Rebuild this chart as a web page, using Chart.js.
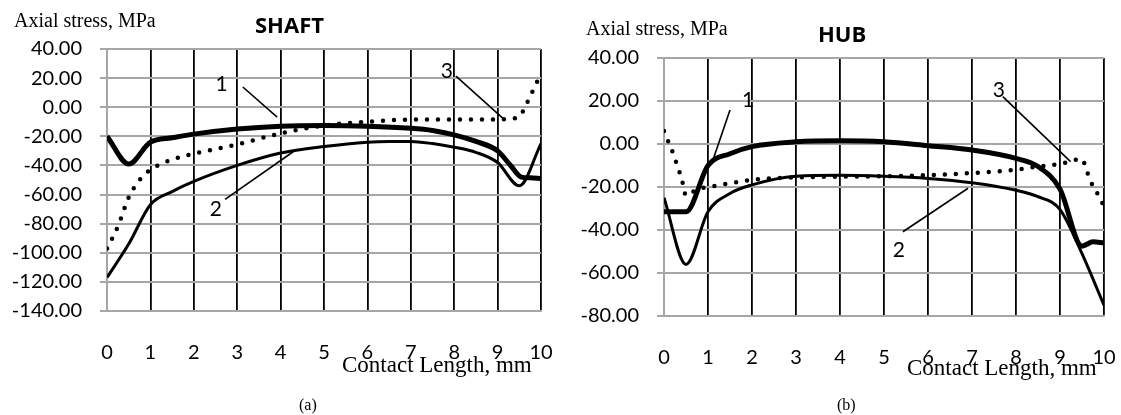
<!DOCTYPE html>
<html>
<head>
<meta charset="utf-8">
<script src="https://cdn.jsdelivr.net/npm/chart.js@4.4.1/dist/chart.umd.min.js"></script>
<style>
    body { margin: 0; background: #fff; }
    #wrap { position: relative; width: 1121px; height: 415px; overflow: hidden; }
    canvas { position: absolute; top: 0; }
    .txt { position: absolute; white-space: nowrap; line-height: 1; color: #000; }
    .serif { font-family: "Liberation Serif", "Times New Roman", serif; }
    .bold { font-family: "Open Sans", sans-serif; font-weight: bold; }
</style>
</head>
<body>
<div id="wrap">
    <canvas id="shaftChart" style="left:0px"></canvas>
    <canvas id="hubChart" style="left:560px"></canvas>

    <div class="txt serif" style="left:14px; top:10px; font-size:20px;">Axial stress, MPa</div>
    <div class="txt bold" style="left:255px; top:13px; font-size:22px;">SHAFT</div>
    <div class="txt serif" style="left:342px; top:353px; font-size:23px;">Contact Length, mm</div>
    <div class="txt serif" style="left:299px; top:397px; font-size:16px;">(a)</div>

    <div class="txt serif" style="left:586px; top:18px; font-size:20px;">Axial stress, MPa</div>
    <div class="txt bold" style="left:818px; top:22px; font-size:22px;">HUB</div>
    <div class="txt serif" style="left:907px; top:356px; font-size:23px;">Contact Length, mm</div>
    <div class="txt serif" style="left:837px; top:397px; font-size:16px;">(b)</div>
</div>

<script>
// --- SHAFT data (x in mm, axial stress in MPa) ---
const shaftX1 = [0, 0.5, 1, 1.5, 2, 3, 4, 5, 6, 7, 7.5, 8, 8.5, 9, 9.3, 9.55, 9.75, 10];
const shaftY1 = [-20, -39, -24, -21, -18.5, -15, -13, -12.5, -13, -14.5, -16, -19, -23.5, -30, -40, -48, -48.5, -49];

const shaftX2 = [0, 0.5, 1, 1.5, 2, 3, 4, 5, 6, 6.5, 7, 7.5, 8, 8.5, 9, 9.5, 10];
const shaftY2 = [-117, -94, -67, -58, -51, -40, -31.5, -27, -24, -23.5, -23.5, -25, -27.5, -31, -38, -54, -25];

const shaftX3 = [0, 0.25, 0.5, 0.75, 1, 1.5, 2, 3, 4, 5, 6, 7, 8, 9, 9.25, 9.5, 9.63, 9.75, 9.87, 10];
const shaftY3 = [-97, -82, -62, -50, -43, -36, -32, -25.5, -18, -12.5, -10, -8.5, -8.5, -8.5, -8, -6.5, 0, 7.5, 15, 23];

const shaftTicksY = { min: -140, max: 40, step: 20 };

// curve labels: text, label position, leader line (x1, y1, x2, y2) in data units
const shaftNoteText = ['1', '2', '3'];
const shaftNoteAt = [[2.64, 15.9], [2.51, -70], [7.83, 24.4]];
const shaftLeaders = [[3.13, 13.9, 3.92, -6.8], [2.72, -63.3, 4.29, -30.6], [8.04, 21.4, 9.15, -8.3]];

// --- HUB data ---
const hubX1 = [0, 0.5, 1, 1.5, 2, 3, 4, 5, 6, 7, 8, 8.5, 9, 9.5, 9.75, 10];
const hubY1 = [-31.5, -31.5, -10, -4.5, -1.2, 1, 1.5, 1, -0.8, -2.8, -6.7, -10.5, -21, -47.5, -45.5, -46];

const hubX2 = [0, 0.5, 1, 1.5, 2, 3, 4, 5, 6, 7, 8, 8.5, 9, 9.5, 10];
const hubY2 = [-25, -56, -31.5, -23, -19, -15, -14.5, -15, -16, -18, -21.5, -24.5, -30.5, -51, -75];

const hubX3 = [0, 0.1, 0.2, 0.3, 0.4, 0.5, 0.75, 1, 1.5, 2, 3, 4, 5, 6, 7, 8, 8.5, 9, 9.5, 9.6, 9.7, 9.85, 10];
const hubY3 = [6, 1, -4, -10, -16, -24, -21, -20, -18.3, -16.7, -15.5, -15.2, -15, -14.5, -13.5, -12, -10.5, -9.3, -7, -12, -17.5, -23, -29];

const hubTicksY = { min: -80, max: 40, step: 20 };

const hubNoteText = ['1', '2', '3'];
const hubNoteAt = [[1.91, 20.5], [5.34, -49.3], [7.61, 25.1]];
const hubLeaders = [[1.5, 15.8, 1.1, -8.2], [5.43, -40.8, 6.91, -20.6], [7.7, 22, 9.24, -8.2]];

const xTicks = { min: 0, max: 10, step: 1 };

const GRID_GRAY = '#a6a6a6';
const TICK_FONT = { family: 'Lato, "Open Sans", sans-serif', size: 20 };

function toPoints(xs, ys) {
    return xs.map((x, i) => ({ x: x, y: ys[i] }));
}

// draws the "1", "2", "3" markers with their leader lines
const notesPlugin = {
    id: 'curveNotes',
    afterDatasetsDraw(chart, args, opts) {
        const { ctx, scales: { x, y } } = chart;
        ctx.save();
        ctx.strokeStyle = '#000';
        ctx.lineWidth = 1.6;
        opts.leaders.forEach(l => {
            ctx.beginPath();
            ctx.moveTo(x.getPixelForValue(l[0]), y.getPixelForValue(l[1]));
            ctx.lineTo(x.getPixelForValue(l[2]), y.getPixelForValue(l[3]));
            ctx.stroke();
        });
        ctx.fillStyle = '#000';
        ctx.font = '21px Lato, "Open Sans", sans-serif';
        ctx.textAlign = 'center';
        ctx.textBaseline = 'middle';
        opts.text.forEach((t, i) => {
            ctx.fillText(t, x.getPixelForValue(opts.at[i][0]), y.getPixelForValue(opts.at[i][1]));
        });
        ctx.restore();
    }
};

function makeChart(id, w, area, series, yRange, notes) {
    const canvas = document.getElementById(id);
    canvas.width = w;
    canvas.height = 415;
    canvas.style.width = w + 'px';
    canvas.style.height = '415px';

    const datasets = [
        { // 1 - thick
            data: toPoints(series[0][0], series[0][1]),
            borderColor: '#000',
            borderWidth: 5,
            borderJoinStyle: 'round',
            cubicInterpolationMode: 'monotone',
            pointRadius: 0
        },
        { // 2 - thin
            data: toPoints(series[1][0], series[1][1]),
            borderColor: '#000',
            borderWidth: 3,
            borderJoinStyle: 'round',
            cubicInterpolationMode: 'monotone',
            pointRadius: 0
        },
        { // 3 - dotted
            data: toPoints(series[2][0], series[2][1]),
            borderColor: '#000',
            borderWidth: 4.5,
            borderDash: [0, 11],
            borderCapStyle: 'round',
            cubicInterpolationMode: 'monotone',
            pointRadius: 0
        }
    ];

    return new Chart(canvas.getContext('2d'), {
        type: 'line',
        data: { datasets: datasets },
        plugins: [notesPlugin],
        options: {
            responsive: false,
            animation: false,
            layout: { padding: { left: 0, top: area.top, right: w - area.right, bottom: 0 } },
            plugins: {
                legend: { display: false },
                tooltip: { enabled: false },
                curveNotes: notes
            },
            scales: {
                x: {
                    type: 'linear',
                    min: xTicks.min,
                    max: xTicks.max,
                    afterFit: s => {
                        // keep the tick padding from shrinking the plot area sideways
                        s.height = 415 - area.bottom;
                        s.paddingLeft = 0;
                        s.paddingRight = 0;
                    },
                    ticks: { stepSize: xTicks.step, color: '#000', font: TICK_FONT, padding: 30, maxRotation: 0 },
                    grid: {
                        color: c => (c.tick && c.tick.value === 0) ? GRID_GRAY : '#000',
                        lineWidth: 1.8,
                        drawTicks: false
                    },
                    border: { color: GRID_GRAY, width: 2 }
                },
                y: {
                    min: yRange.min,
                    max: yRange.max,
                    afterFit: s => {
                        s.width = area.left;
                        s.paddingTop = 0;
                        s.paddingBottom = 0;
                    },
                    ticks: {
                        stepSize: yRange.step,
                        color: '#000',
                        font: TICK_FONT,
                        padding: 18,
                        callback: v => v.toFixed(2)
                    },
                    grid: { color: GRID_GRAY, lineWidth: 2, tickLength: 7 },
                    border: { color: GRID_GRAY, width: 2 }
                }
            }
        }
    });
}

makeChart('shaftChart', 560, { left: 107, right: 541, top: 49, bottom: 311 },
    [[shaftX1, shaftY1], [shaftX2, shaftY2], [shaftX3, shaftY3]], shaftTicksY,
    { text: shaftNoteText, at: shaftNoteAt, leaders: shaftLeaders });

makeChart('hubChart', 561, { left: 104, right: 544, top: 58, bottom: 316 },
    [[hubX1, hubY1], [hubX2, hubY2], [hubX3, hubY3]], hubTicksY,
    { text: hubNoteText, at: hubNoteAt, leaders: hubLeaders });
</script>
</body>
</html>
